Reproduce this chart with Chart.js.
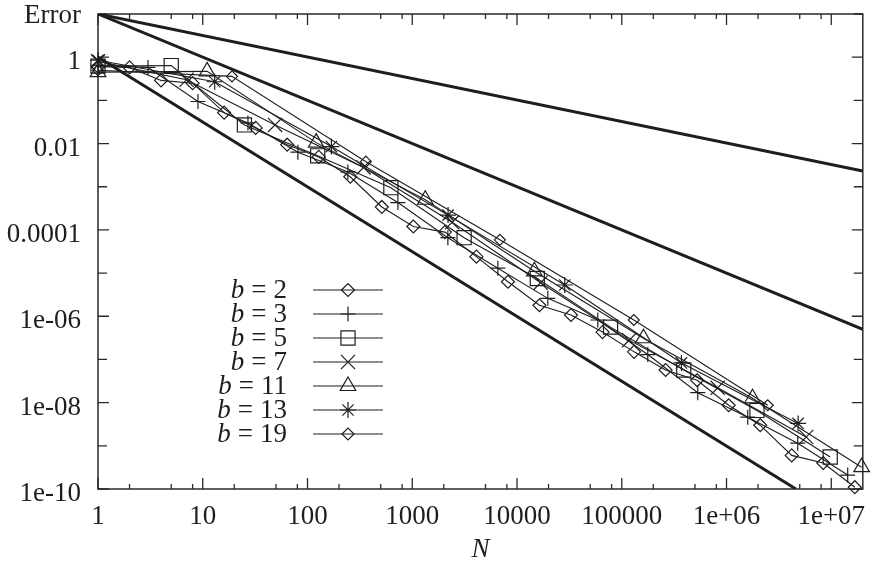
<!DOCTYPE html>
<html>
<head>
<meta charset="utf-8">
<script src="https://cdn.jsdelivr.net/npm/chart.js@4.4.1/dist/chart.umd.min.js"></script>
<style>
  html, body { margin: 0; padding: 0; background: #fff; }
  canvas { display: block; }
</style>
</head>
<body>
<canvas id="errChart" width="874" height="569"></canvas>
<script>
// N = b^k sample sizes and the measured error for each base b
const n2 = [1, 2, 4, 8, 16, 32, 64, 128, 256, 512, 1024, 2048, 4096, 8192, 16384, 32768, 65536,
  131072, 262144, 524288, 1048576, 2097152, 4194304, 8388608, 16777216];
const err2 = [0.6, 0.58, 0.29, 0.25, 0.052, 0.023, 0.0094, 0.0049, 0.0017, 3.4e-4, 1.2e-4, 8.9e-5,
  2.4e-5, 6.3e-6, 1.8e-6, 1.07e-6, 4.3e-7, 1.5e-7, 5.7e-8, 3.3e-8, 8.7e-9, 3e-9, 6e-10, 4e-10, 1.1e-10];

const n3 = [1, 3, 9, 27, 81, 243, 729, 2187, 6561, 19683, 59049, 177147, 531441, 1594323,
  4782969, 14348907];
const err3 = [0.65, 0.58, 0.094, 0.03, 0.0063, 0.0022, 4.3e-4, 6.6e-5, 1.3e-5, 2.6e-6, 8.2e-7,
  1.3e-7, 1.7e-8, 4.6e-9, 1.15e-9, 2.1e-10];

const n5 = [1, 5, 25, 125, 625, 3125, 15625, 78125, 390625, 1953125, 9765625];
const err5 = [0.62, 0.64, 0.027, 0.0052, 9.5e-4, 6.6e-5, 7.5e-6, 5.6e-7, 5.7e-8, 6.6e-9, 5.5e-10];

const n7 = [1, 7, 49, 343, 2401, 16807, 117649, 823543, 5764801];
const err7 = [0.8, 0.3, 0.027, 0.0028, 1.5e-4, 6e-6, 2.8e-7, 2.2e-8, 1.6e-9];

const n11 = [1, 11, 121, 1331, 14641, 161051, 1771561, 19487171];
const err11 = [0.45, 0.47, 0.0105, 5e-4, 1.1e-5, 3.1e-7, 1.26e-8, 3.2e-10];

const n13 = [1, 13, 169, 2197, 28561, 371293, 4826809];
const err13 = [0.85, 0.27, 0.0085, 2.2e-4, 5.3e-6, 8.3e-8, 3.3e-9];

const n19 = [1, 19, 361, 6859, 130321, 2476099];
const err19 = [0.5, 0.36, 0.0038, 5.9e-5, 8.2e-7, 8.7e-9];

// reference slopes N^-1/2, N^-1, N^-3/2 (end points)
const refHalfN = [1, 2e7];
const refHalf = [10, 2.3e-3];
const refOneN = [1, 2e7];
const refOne = [10, 5e-7];
const refThreeHalfN = [1, 4.6e6];
const refThreeHalf = [1, 1e-10];

const baseLabels = ['2', '3', '5', '7', '11', '13', '19'];
const pointStyles = ['rectRot', 'cross', 'rect', 'crossRot', 'triangle', 'star', 'rectRot'];
const pointSizes = [6.5, 7.5, 10, 10, 9, 8, 5.5];

const xTickValues = [1, 10, 100, 1000, 10000, 100000, 1e6, 1e7];
const xTickLabels = ['1', '10', '100', '1000', '10000', '100000', '1e+06', '1e+07'];
const xMinorMult = [2, 5, 8];
const yTickValues = [1, 1e-2, 1e-4, 1e-6, 1e-8, 1e-10];
const yTickLabels = ['1', '0.01', '0.0001', '1e-06', '1e-08', '1e-10'];
const yMinorValues = [10, 0.1, 1e-3, 1e-5, 1e-7, 1e-9];

const INK = '#1e1e1e';
const FONT = '"Liberation Serif", "DejaVu Serif", serif';
const FSIZE = 27;

const zip = (xs, ys) => xs.map((x, i) => ({ x: x, y: ys[i] }));

const seriesN = [n2, n3, n5, n7, n11, n13, n19];
const seriesErr = [err2, err3, err5, err7, err11, err13, err19];

const dataSets = seriesN.map((ns, i) => ({
  label: 'b = ' + baseLabels[i],
  data: zip(ns, seriesErr[i]),
  keyIndex: i,
  borderColor: INK,
  borderWidth: 1.1,
  pointStyle: pointStyles[i],
  pointRadius: pointSizes[i],
  pointBorderColor: INK,
  pointBorderWidth: 1.2,
  pointBackgroundColor: 'rgba(0,0,0,0)',
  clip: false
}));

const refLine = (xs, ys) => ({
  data: zip(xs, ys),
  borderColor: INK,
  borderWidth: 3,
  pointRadius: 0
});

const refSets = [
  refLine(refHalfN, refHalf),
  refLine(refOneN, refOne),
  refLine(refThreeHalfN, refThreeHalf)
];

function sameVal(a, b) { return Math.abs(Math.log10(a) - Math.log10(b)) < 1e-6; }

// frame and inward tick marks on all four sides, plus the key
const frameTicks = {
  id: 'frameTicks',
  beforeDatasetsDraw(chart) {
    const { ctx, chartArea: a, scales } = chart;
    ctx.save();
    ctx.strokeStyle = '#2a2a2a';
    ctx.lineWidth = 1.5;
    ctx.strokeRect(a.left, a.top, a.right - a.left, a.bottom - a.top);
    ctx.lineWidth = 1.3;
    ctx.beginPath();
    scales.x.ticks.forEach(t => {
      const px = scales.x.getPixelForValue(t.value);
      const len = t.major ? 11 : 5;
      ctx.moveTo(px, a.bottom); ctx.lineTo(px, a.bottom - len);
      ctx.moveTo(px, a.top); ctx.lineTo(px, a.top + len);
    });
    scales.y.ticks.forEach(t => {
      const py = scales.y.getPixelForValue(t.value);
      const len = t.major ? 11 : 9;
      ctx.moveTo(a.left, py); ctx.lineTo(a.left + len, py);
      ctx.moveTo(a.right, py); ctx.lineTo(a.right - len, py);
    });
    ctx.stroke();
    ctx.restore();
  },
  afterDraw(chart) {
    const { ctx, chartArea: a } = chart;
    ctx.save();
    ctx.fillStyle = INK;
    ctx.textBaseline = 'middle';
    // y axis title at the top of the axis
    ctx.font = FSIZE + 'px ' + FONT;
    ctx.textAlign = 'right';
    ctx.fillText('Error', 81, a.top + 2);

    // key: "b = 2" text on the left, line sample with marker on the right
    const textRight = 287, lineL = 313, lineR = 383, mark = 348;
    const gap = 7;
    chart.data.datasets.forEach(ds => {
      if (ds.keyIndex === undefined) return;
      const i = ds.keyIndex;
      const y = 291 + i * 24;
      ctx.fillStyle = INK;
      ctx.font = FSIZE + 'px ' + FONT;
      const num = baseLabels[i];
      const wNum = ctx.measureText(num).width;
      const wEq = ctx.measureText('=').width;
      ctx.textAlign = 'left';
      let x = textRight - wNum;
      ctx.fillText(num, x, y);
      x -= gap + wEq;
      ctx.fillText('=', x, y);
      ctx.font = 'italic ' + FSIZE + 'px ' + FONT;
      const wB = ctx.measureText('b').width;
      x -= gap + wB;
      ctx.fillText('b', x, y);

      ctx.strokeStyle = ds.borderColor;
      ctx.lineWidth = ds.borderWidth;
      ctx.beginPath();
      ctx.moveTo(lineL, y - 1);
      ctx.lineTo(lineR, y - 1);
      ctx.stroke();
      ctx.fillStyle = 'rgba(0,0,0,0)';
      ctx.lineWidth = ds.pointBorderWidth;
      Chart.helpers.drawPoint(ctx, {
        pointStyle: ds.pointStyle,
        radius: i === 6 ? 6 : ds.pointRadius,
        rotation: 0,
        borderWidth: ds.pointBorderWidth
      }, mark, y - 1);
    });
    ctx.restore();
  }
};

new Chart(document.getElementById('errChart'), {
  type: 'line',
  data: { datasets: refSets.concat(dataSets) },
  options: {
    responsive: false,
    animation: false,
    layout: { padding: { top: 14, right: 10, left: 0, bottom: 0 } },
    plugins: { legend: { display: false }, tooltip: { enabled: false } },
    elements: { line: { tension: 0 } },
    scales: {
      x: {
        type: 'logarithmic',
        min: 1,
        max: 2e7,
        grid: { display: false, drawTicks: false },
        border: { display: false },
        afterBuildTicks(scale) {
          const ticks = [];
          xTickValues.forEach(v => {
            ticks.push({ value: v, major: true });
            xMinorMult.forEach(m => { if (v * m < 2e7) ticks.push({ value: v * m, major: false }); });
          });
          scale.ticks = ticks;
        },
        afterFit(scale) {
          scale.height = 80;
          scale.paddingLeft = 0;
          scale.paddingRight = 0;
        },
        ticks: {
          autoSkip: false,
          maxRotation: 0,
          padding: 12,
          color: INK,
          font: { family: FONT, size: FSIZE },
          callback(value) {
            const i = xTickValues.findIndex(v => sameVal(v, value));
            return i < 0 ? '' : xTickLabels[i];
          }
        },
        title: {
          display: true,
          text: 'N',
          color: INK,
          font: { family: FONT, size: FSIZE, style: 'italic' },
          padding: { top: 0, bottom: 3 }
        }
      },
      y: {
        type: 'logarithmic',
        min: 1e-10,
        max: 10,
        grid: { display: false, drawTicks: false },
        border: { display: false },
        afterBuildTicks(scale) {
          const ticks = yTickValues.map(v => ({ value: v, major: true }));
          yMinorValues.forEach(v => ticks.push({ value: v, major: false }));
          ticks.sort((p, q) => p.value - q.value);
          scale.ticks = ticks;
        },
        afterFit(scale) {
          scale.width = 98;
          scale.paddingTop = 0;
          scale.paddingBottom = 0;
        },
        ticks: {
          autoSkip: false,
          padding: 17,
          labelOffset: 5,
          color: INK,
          font: { family: FONT, size: FSIZE },
          callback(value) {
            const i = yTickValues.findIndex(v => sameVal(v, value));
            return i < 0 ? '' : yTickLabels[i];
          }
        }
      }
    }
  },
  plugins: [frameTicks]
});
</script>
</body>
</html>
